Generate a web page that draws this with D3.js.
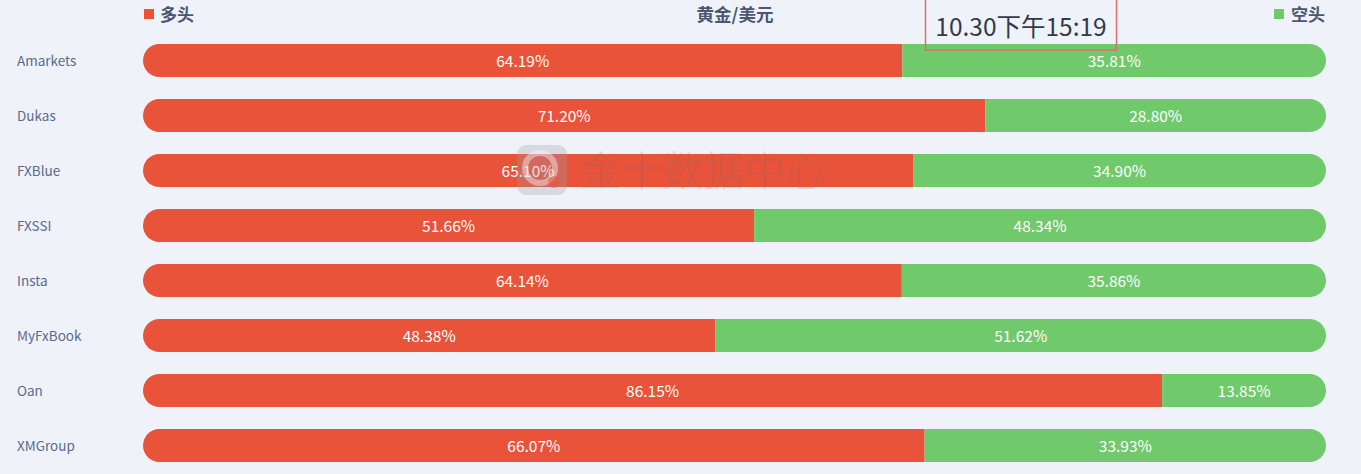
<!DOCTYPE html>
<html><head><meta charset="utf-8">
<script src="https://cdn.jsdelivr.net/npm/d3@7"></script>
<style>
html,body{margin:0;padding:0;background:#eff2f9;}
svg{display:block;font-family:"Microsoft YaHei","Noto Sans CJK SC","Noto Sans",sans-serif;}
</style></head>
<body>
<svg id="chart" width="1361" height="474"></svg>
<script>
const categories = ["Amarkets","Dukas","FXBlue","FXSSI","Insta","MyFxBook","Oan","XMGroup"];
const longValues = [64.19,71.20,65.10,51.66,64.14,48.38,86.15,66.07];
const shortValues = [35.81,28.80,34.90,48.34,35.86,51.62,13.85,33.93];
const legendLabels = ["多头","空头"];
const titleText = "黄金/美元";
const stampText = "10.30下午15:19";
const watermarkText = "金十数据中心";

const svg = d3.select("#chart");
const x = d3.scaleLinear().domain([0,100]).range([143,1326]);
const y = d3.scaleBand().domain(categories).range([33,473]).paddingInner(0.4).paddingOuter(0.2);
const red = "#e8533a", green = "#70c96a";

const defs = svg.append("defs");
categories.forEach((c,i)=>{
  defs.append("clipPath").attr("id","clip"+i).append("rect")
    .attr("x",x(0)).attr("y",y(c)).attr("width",x(100)-x(0)).attr("height",y.bandwidth())
    .attr("rx",y.bandwidth()/2);
});

const rows = svg.append("g").selectAll("g").data(categories).join("g");
rows.append("rect").attr("clip-path",(d,i)=>`url(#clip${i})`)
  .attr("x",x(0)).attr("y",d=>y(d)).attr("height",y.bandwidth())
  .attr("width",(d,i)=>x(longValues[i])-x(0)).attr("fill",red);
rows.append("rect").attr("clip-path",(d,i)=>`url(#clip${i})`)
  .attr("x",(d,i)=>x(longValues[i])).attr("y",d=>y(d)).attr("height",y.bandwidth())
  .attr("width",(d,i)=>x(100)-x(longValues[i])).attr("fill",green);
rows.append("text").attr("x",(d,i)=>(x(0)+x(longValues[i]))/2).attr("y",d=>y(d)+y.bandwidth()/2+1)
  .attr("dy","0.35em").attr("text-anchor","middle").attr("fill","#fff").attr("font-size",15.5)
  .text((d,i)=>longValues[i].toFixed(2)+"%");
rows.append("text").attr("x",(d,i)=>(x(longValues[i])+x(100))/2).attr("y",d=>y(d)+y.bandwidth()/2+1)
  .attr("dy","0.35em").attr("text-anchor","middle").attr("fill","#fff").attr("font-size",15.5)
  .text((d,i)=>shortValues[i].toFixed(2)+"%");
rows.append("text").attr("x",17).attr("y",d=>y(d)+y.bandwidth()/2+1)
  .attr("dy","0.35em").attr("fill","#5b6a8c").attr("font-size",13.5).text(d=>d);

// watermark on top
const wm = svg.append("g");
wm.append("rect").attr("x",517).attr("y",145).attr("width",50).attr("height",50).attr("rx",9)
  .attr("fill","#9aa0ad").attr("opacity",0.3);
wm.append("circle").attr("cx",540).attr("cy",168).attr("r",15).attr("fill","none")
  .attr("stroke","#fff").attr("stroke-width",6).attr("opacity",0.4);
wm.append("circle").attr("cx",554).attr("cy",182).attr("r",6).attr("fill","#e8533a").attr("opacity",0.5);
wm.append("text").attr("x",580).attr("y",171).attr("dy","0.36em").attr("font-size",41).attr("font-weight",300)
  .attr("fill","#6a6f7a").attr("opacity",0.18).text(watermarkText);

// legend
svg.append("rect").attr("x",144).attr("y",9).attr("width",10).attr("height",10).attr("fill",red);
svg.append("text").attr("x",160).attr("y",15).attr("dy","0.35em").attr("font-size",17).attr("font-weight","bold").attr("fill","#4c5673").text(legendLabels[0]);
svg.append("rect").attr("x",1274).attr("y",9).attr("width",10).attr("height",10).attr("fill",green);
svg.append("text").attr("x",1291).attr("y",15).attr("dy","0.35em").attr("font-size",17).attr("font-weight","bold").attr("fill","#4c5673").text(legendLabels[1]);
svg.append("text").attr("x",735).attr("y",15).attr("dy","0.35em").attr("text-anchor","middle").attr("font-size",17.5).attr("font-weight","bold").attr("fill","#4c5673").text(titleText);

// timestamp box
svg.append("rect").attr("x",925.5).attr("y",-1).attr("width",191).attr("height",51).attr("fill","none").attr("stroke","#e36b6b").attr("stroke-width",1.5);
svg.append("text").attr("x",1021).attr("y",27).attr("dy","0.35em").attr("text-anchor","middle").attr("font-size",24.5).attr("fill","#333a48").text(stampText);
</script>
</body></html>
